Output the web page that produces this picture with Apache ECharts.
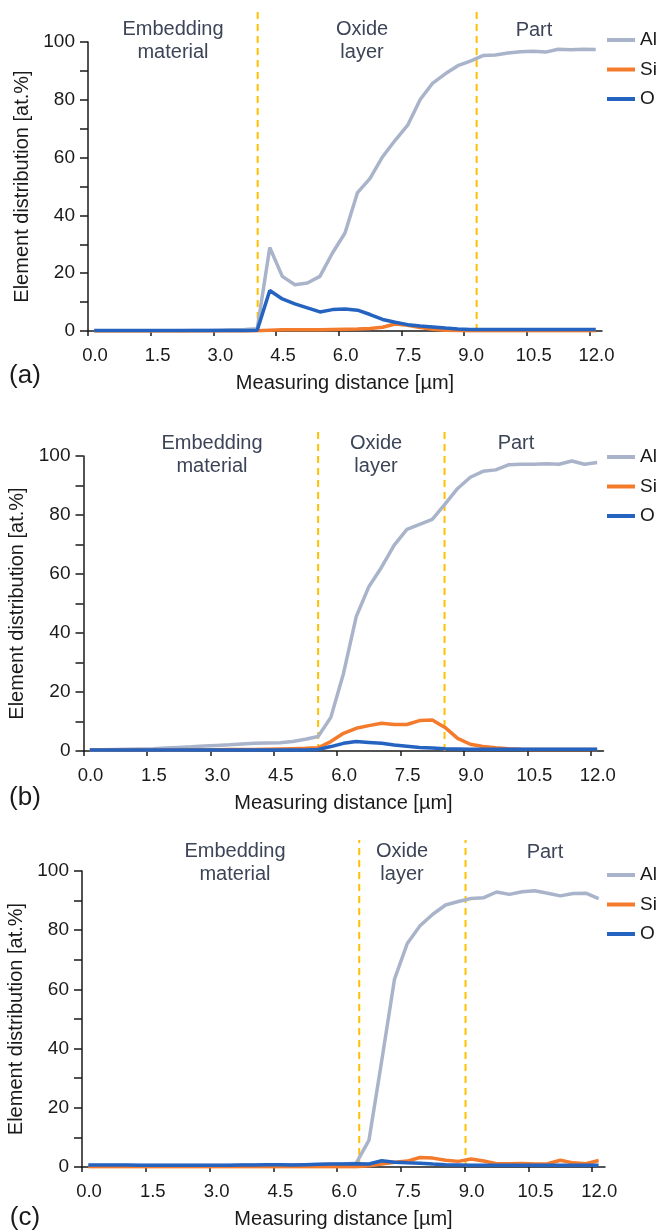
<!DOCTYPE html>
<html>
<head>
<meta charset="utf-8">
<script src="https://cdn.jsdelivr.net/npm/echarts@6/dist/echarts.min.js"></script>
<style>
html, body { margin: 0; padding: 0; background: #fff; }
#chart { width: 664px; height: 1232px; }
</style>
</head>
<body>
<div id="chart"></div>
<script>
// measuring positions [µm], same for all three line scans
const dist = [0.15, 0.45, 0.75, 1.05, 1.35, 1.65, 1.95, 2.25, 2.55, 2.85, 3.15, 3.45, 3.75, 4.05,
  4.35, 4.65, 4.95, 5.25, 5.55, 5.85, 6.15, 6.45, 6.75, 7.05, 7.35, 7.65, 7.95, 8.25, 8.55, 8.85,
  9.15, 9.45, 9.75, 10.05, 10.35, 10.65, 10.95, 11.25, 11.55, 11.85, 12.15];
const xTicks = [0, 1.5, 3, 4.5, 6, 7.5, 9, 10.5, 12];
const elements = ['Al', 'Si', 'O'];
const colors = ['#a9b4ca', '#f47a2c', '#2563c0'];
const regionNames = ['Embedding\nmaterial', 'Oxide\nlayer', 'Part'];
const panelNames = ['(a)', '(b)', '(c)'];

// (a)
const alA = [0.1, 0.1, 0.1, 0.1, 0.1, 0.1, 0.1, 0.1, 0.2, 0.2, 0.3, 0.4, 0.5, 0.8,
  28.9, 18.9, 16.0, 16.6, 18.9, 27.0, 33.9, 47.9, 52.8, 60.3, 66.0, 71.2, 80.1, 85.8, 89.0, 91.8,
  93.4, 95.3, 95.5, 96.2, 96.6, 96.8, 96.5, 97.5, 97.3, 97.5, 97.4];
const siA = [0, 0, 0, 0, 0, 0, 0, 0, 0, 0, 0, 0, 0, 0.1,
  0.3, 0.4, 0.4, 0.4, 0.4, 0.5, 0.6, 0.7, 0.9, 1.3, 2.4, 2.0, 1.2, 0.6, 0.3, 0.2,
  0.1, 0.1, 0.1, 0.1, 0.1, 0.1, 0.1, 0.1, 0.1, 0.1, 0.1];
const oA = [0.2, 0.2, 0.2, 0.2, 0.2, 0.2, 0.2, 0.2, 0.2, 0.2, 0.2, 0.2, 0.2, 0.3,
  14.0, 11.1, 9.4, 8.0, 6.6, 7.4, 7.6, 7.2, 5.7, 4.0, 3.0, 2.2, 1.7, 1.4, 1.0, 0.7,
  0.5, 0.5, 0.5, 0.5, 0.5, 0.5, 0.5, 0.5, 0.5, 0.5, 0.5];
const boundsA = [4.06, 9.3];

// (b)
const alB = [0.3, 0.4, 0.5, 0.6, 0.7, 0.8, 1.0, 1.2, 1.4, 1.7, 1.9, 2.1, 2.4, 2.6, 2.7, 2.8, 3.2, 4.0,
  4.9, 11.4, 26.3, 45.5, 55.7, 62.3, 69.8, 75.1, 76.8, 78.5, 83.7, 89.0,
  92.8, 94.8, 95.3, 97.0, 97.2, 97.2, 97.4, 97.2, 98.3, 97.2, 97.8];
const siB = [0.3, 0.3, 0.3, 0.3, 0.3, 0.3, 0.3, 0.3, 0.4, 0.4, 0.4, 0.5, 0.5, 0.5, 0.6, 0.7, 0.8, 0.9,
  1.1, 3.2, 6.0, 7.7, 8.6, 9.4, 9.0, 9.0, 10.3, 10.5, 8.0, 4.3,
  2.3, 1.5, 1.1, 0.8, 0.6, 0.5, 0.5, 0.5, 0.5, 0.5, 0.5];
const oB = [0.3, 0.3, 0.3, 0.3, 0.3, 0.3, 0.3, 0.3, 0.3, 0.3, 0.3, 0.3, 0.3, 0.3, 0.3, 0.3, 0.3, 0.3,
  0.5, 1.5, 2.6, 3.2, 2.9, 2.6, 2.0, 1.6, 1.2, 1.0, 0.8, 0.7,
  0.6, 0.6, 0.6, 0.6, 0.6, 0.6, 0.6, 0.6, 0.6, 0.6, 0.6];
const boundsB = [5.55, 8.54];

// (c)
const alC = [0.5, 0.5, 0.5, 0.5, 0.5, 0.5, 0.5, 0.5, 0.5, 0.5, 0.5, 0.5, 0.6, 0.6, 0.7, 0.7, 0.7, 0.8, 0.8, 0.9, 1.0,
  1.3, 9.1, 36.0, 63.5, 75.5, 81.5, 85.4, 88.5, 89.7,
  90.7, 91.0, 92.9, 92.1, 93.0, 93.3, 92.5, 91.6, 92.4, 92.5, 90.7];
const siC = [0.1, 0.1, 0.1, 0.1, 0.1, 0.1, 0.1, 0.1, 0.1, 0.1, 0.1, 0.1, 0.1, 0.1, 0.1, 0.1, 0.1, 0.1, 0.1, 0.1, 0.1,
  0.1, 0.4, 1.0, 1.6, 2.0, 3.2, 3.0, 2.3, 1.9,
  2.7, 2.0, 1.1, 1.1, 1.2, 1.0, 1.1, 2.3, 1.4, 1.1, 2.2];
const oC = [0.7, 0.7, 0.7, 0.7, 0.6, 0.6, 0.6, 0.6, 0.6, 0.6, 0.6, 0.6, 0.7, 0.7, 0.8, 0.8, 0.7, 0.8, 0.9, 1.0, 1.0,
  1.1, 1.0, 2.1, 1.6, 1.4, 1.3, 1.0, 0.8, 0.7,
  0.6, 0.6, 0.6, 0.6, 0.6, 0.6, 0.6, 0.6, 0.6, 0.6, 0.6];
const boundsC = [6.52, 9.02];

const profiles = [[alA, siA, oA], [alB, siB, oB], [alC, siC, oC]];
const bounds = [boundsA, boundsB, boundsC];

// page layout of the three panels (pixels)
const layout = [
  { left: 88, width: 514, top: 42, height: 289, dashTop: 10, legendTop: 30,
    regionX: [173, 362, 534], regionY: 41, partY: 30, tagY: 376 },
  { left: 83.5, width: 520, top: 456, height: 295, dashTop: 428, legendTop: 447,
    regionX: [212, 376, 516], regionY: 455, partY: 443, tagY: 798 },
  { left: 82, width: 523, top: 871, height: 296, dashTop: 840, legendTop: 865,
    regionX: [235, 402, 545], regionY: 863, partY: 852, tagY: 1218 }
];

const font = 'Liberation Sans, Arial, sans-serif';
const ink = '#1a1a1a';
const xMax = 12.3;

const grids = [], xAxes = [], yAxes = [], series = [], legends = [], graphics = [];

layout.forEach((p, k) => {
  const gi = 2 * k;
  grids.push({ left: p.left, top: p.top, width: p.width, height: p.height, outerBoundsMode: 'none' });
  grids.push({ left: p.left, top: p.dashTop, width: p.width, height: p.top + p.height - p.dashTop, outerBoundsMode: 'none' });

  xAxes.push({
    gridIndex: gi, type: 'value', min: 0, max: xMax,
    axisLine: { show: true, onZero: false, lineStyle: { color: ink, width: 1.5 } },
    axisTick: { show: true, length: 5, customValues: xTicks, lineStyle: { color: ink, width: 1.5 } },
    axisLabel: { customValues: xTicks, formatter: v => v.toFixed(1), fontSize: 18.5, color: ink,
      fontFamily: font, margin: 15, padding: [0, 0, 0, 14] },
    splitLine: { show: false },
    name: 'Measuring distance [µm]', nameLocation: 'middle', nameGap: 42,
    nameTextStyle: { fontSize: 20, color: ink, fontFamily: font }
  });
  xAxes.push({ gridIndex: gi + 1, type: 'value', min: 0, max: xMax, show: false });

  yAxes.push({
    gridIndex: gi, type: 'value', min: 0, max: 100, interval: 10,
    axisLine: { show: true, lineStyle: { color: ink, width: 1.5 } },
    axisTick: { show: true, length: 8, lineStyle: { color: ink, width: 1.5 } },
    axisLabel: { formatter: v => (v % 20 === 0 ? String(v) : ''), fontSize: 19, color: ink,
      fontFamily: font, margin: 13 },
    splitLine: { show: false },
    name: 'Element distribution [at.%]', nameLocation: 'middle', nameGap: 55,
    nameTextStyle: { fontSize: 20, color: ink, fontFamily: font }
  });
  yAxes.push({ gridIndex: gi + 1, type: 'value', min: 0, max: 1, show: false });

  bounds[k].forEach(b => {
    series.push({
      name: 'boundary', type: 'line', xAxisIndex: gi + 1, yAxisIndex: gi + 1,
      data: [[b, 0], [b, 1]], symbol: 'none', silent: true, z: 1,
      lineStyle: { color: '#ffc000', width: 2, type: [7, 5] }
    });
  });

  elements.forEach((name, j) => {
    series.push({
      name, type: 'line', xAxisIndex: gi, yAxisIndex: gi,
      data: dist.map((d, i) => [d, profiles[k][j][i]]),
      symbol: 'none', showSymbol: false, z: 3 + j,
      lineStyle: { color: colors[j], width: 3.5 },
      itemStyle: { color: colors[j] }
    });
  });

  legends.push({
    data: elements, orient: 'vertical', left: 607, top: p.legendTop, padding: 0,
    icon: 'rect', itemWidth: 28, itemHeight: 4, itemGap: 9.5, selectedMode: false,
    textStyle: { fontSize: 19, lineHeight: 20, color: ink, fontFamily: font }
  });

  regionNames.forEach((txt, r) => {
    graphics.push({
      type: 'text', x: p.regionX[r], y: r === 2 ? p.partY : p.regionY,
      style: { text: txt, fill: '#3c4457', fontSize: 20, fontFamily: font, lineHeight: 23.5,
        align: 'center', verticalAlign: 'middle' }
    });
  });
  graphics.push({
    type: 'text', x: 25, y: p.tagY,
    style: { text: panelNames[k], fill: ink, fontSize: 26, fontFamily: font,
      align: 'center', verticalAlign: 'middle' }
  });
});

const chart = echarts.init(document.getElementById('chart'));
chart.setOption({
  animation: false,
  backgroundColor: '#fff',
  grid: grids,
  xAxis: xAxes,
  yAxis: yAxes,
  legend: legends,
  series: series,
  graphic: graphics
});
</script>
</body>
</html>
